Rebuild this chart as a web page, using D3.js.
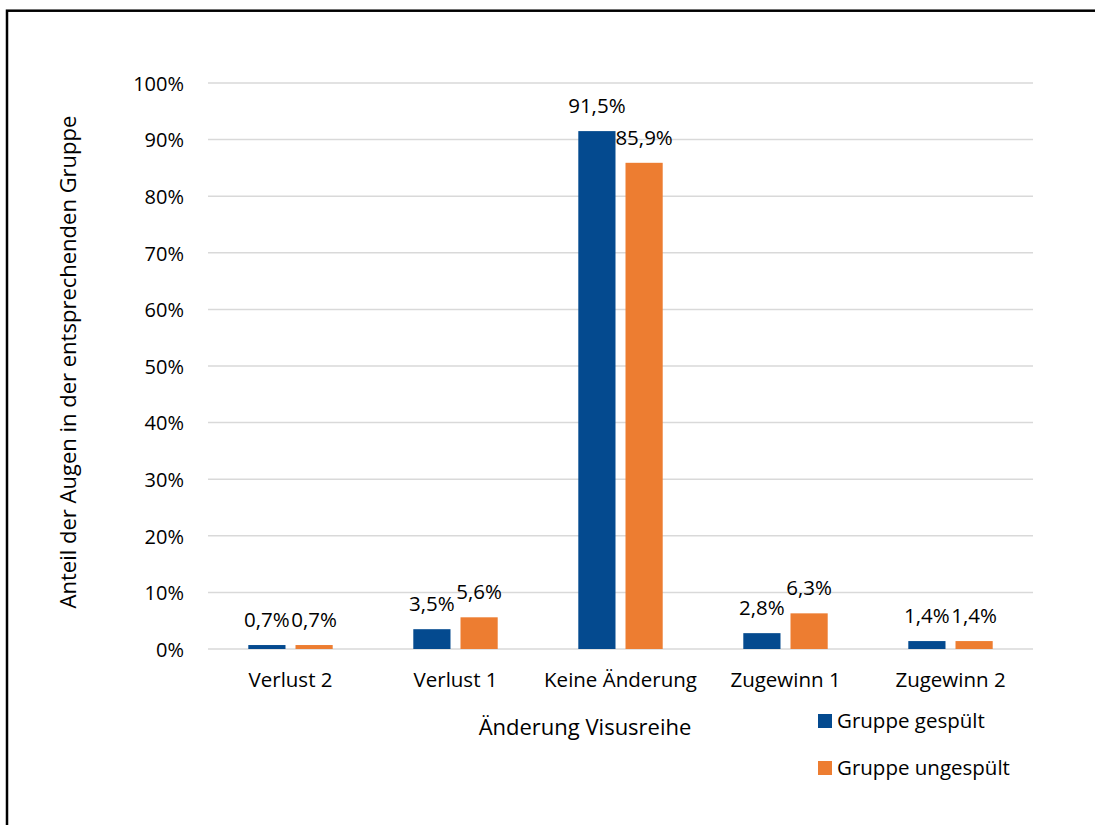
<!DOCTYPE html>
<html>
<head>
<meta charset="utf-8">
<script src="https://cdn.jsdelivr.net/npm/d3@7"></script>
<style>
  body { margin: 0; background: #fff; }
  svg text { font-family: "Open Sans", "Noto Sans", sans-serif; fill: #000; }
</style>
</head>
<body>
<div id="chart"></div>
<script>
var categories = ["Verlust 2", "Verlust 1", "Keine Änderung", "Zugewinn 1", "Zugewinn 2"]
var gespuelt = [0.7, 3.5, 91.5, 2.8, 1.4]
var ungespuelt = [0.7, 5.6, 85.9, 6.3, 1.4]
var seriesNames = ["Gruppe gespült", "Gruppe ungespült"]
var yTicks = [0, 10, 20, 30, 40, 50, 60, 70, 80, 90, 100]

var color = d3.scaleOrdinal().domain(seriesNames).range(["#044a8f", "#ed7d31"])

// plot area
var margin = { top: 83, left: 208 }
var width = 1033 - 208
var height = 649 - 83

var svg = d3.select("#chart").append("svg")
  .attr("width", 1095)
  .attr("height", 825)

// outer frame (runs off the page on right and bottom)
svg.append("rect")
  .attr("x", 7).attr("y", 10.7)
  .attr("width", 1200).attr("height", 1000)
  .attr("fill", "none")
  .attr("stroke", "#000")
  .attr("stroke-width", 2.5)

var g = svg.append("g").attr("transform", "translate(" + margin.left + "," + margin.top + ")")

var x = d3.scaleBand().domain(categories).range([0, width])
var y = d3.scaleLinear().domain([0, 100]).range([height, 0])
var mid = x.bandwidth() / 2
var xSub = d3.scaleBand().domain(seriesNames).range([mid - 42.2, mid + 42.2]).paddingInner(0.212)

// grid lines
g.selectAll(".grid").data(yTicks).enter().append("line")
  .attr("x1", 0).attr("x2", width)
  .attr("y1", d => y(d)).attr("y2", d => y(d))
  .attr("stroke", "#d9d9d9")
  .attr("stroke-width", 1.5)

// y axis
var yAxis = g.append("g")
  .call(d3.axisLeft(y).tickValues(yTicks).tickFormat(d => d + "%").tickSize(0).tickPadding(24))
yAxis.select(".domain").remove()
yAxis.selectAll("text").style("font-size", "20px").attr("dy", "0.36em")

// x axis
var xAxis = g.append("g")
  .attr("transform", "translate(0," + height + ")")
  .call(d3.axisBottom(x).tickSize(0).tickPadding(23))
xAxis.select(".domain").remove()
xAxis.selectAll("text").style("font-size", "20.5px")

var rows = categories.map((c, i) => ({ cat: c, vals: [
  { key: seriesNames[0], value: gespuelt[i] },
  { key: seriesNames[1], value: ungespuelt[i] }
] }))

var grp = g.selectAll(".bar").data(rows).enter().append("g")
  .attr("class", "bar")
  .attr("transform", d => "translate(" + x(d.cat) + ",0)")

grp.selectAll("rect").data(d => d.vals).enter().append("rect")
  .attr("x", d => xSub(d.key))
  .attr("y", d => y(d.value))
  .attr("width", xSub.bandwidth())
  .attr("height", d => height - y(d.value))
  .attr("fill", d => color(d.key))

grp.selectAll("text").data(d => d.vals).enter().append("text")
  .attr("x", d => xSub(d.key) + xSub.bandwidth() / 2)
  .attr("y", d => y(d.value) - 18)
  .attr("text-anchor", "middle")
  .style("font-size", "20.5px")
  .text(d => d.value.toFixed(1).replace(".", ",") + "%")

// axis titles
svg.append("text")
  .attr("x", 585).attr("y", 735)
  .attr("text-anchor", "middle")
  .style("font-size", "22px")
  .text("Änderung Visusreihe")

svg.append("text")
  .attr("transform", "translate(76,362) rotate(-90)")
  .attr("text-anchor", "middle")
  .style("font-size", "22px")
  .text("Anteil der Augen in der entsprechenden Gruppe")

// legend
var legend = svg.selectAll(".legend").data(seriesNames).enter().append("g")
  .attr("class", "legend")
  .attr("transform", (d, i) => "translate(818," + (714 + i * 47) + ")")

legend.append("rect")
  .attr("width", 14).attr("height", 14)
  .attr("fill", d => color(d))

legend.append("text")
  .attr("x", 19).attr("y", 14)
  .style("font-size", "20.5px")
  .text(d => d)
</script>
</body>
</html>
